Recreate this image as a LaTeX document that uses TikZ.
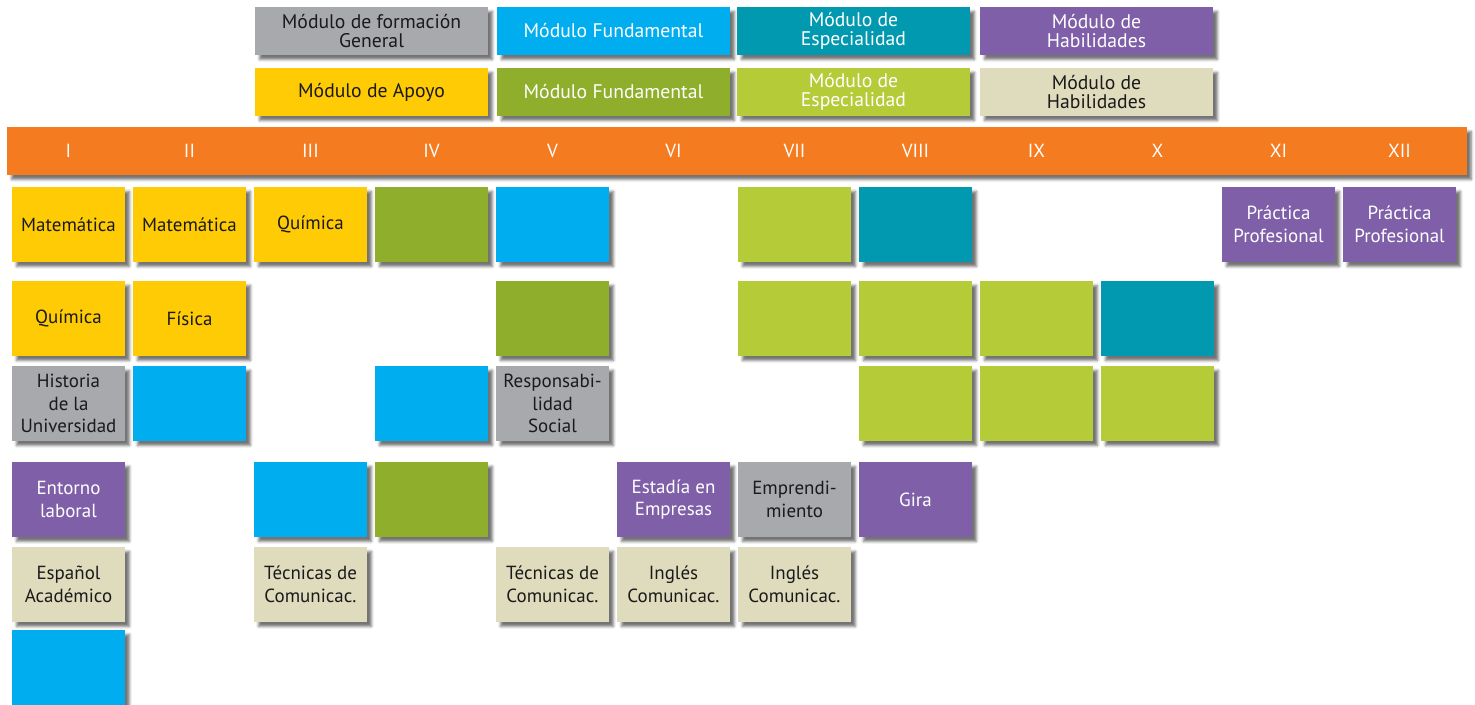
\documentclass[tikz,border=0pt]{standalone}
\usepackage{fontspec}
\setmainfont{PT Sans}
\usetikzlibrary{shadows.blur}

\definecolor{gris}{HTML}{A7A9AC}
\definecolor{celeste}{HTML}{00AEEF}
\definecolor{petroleo}{HTML}{0099B0}
\definecolor{morado}{HTML}{7F5FA8}
\definecolor{amarillo}{HTML}{FFCB05}
\definecolor{oliva}{HTML}{8FAE2B}
\definecolor{lima}{HTML}{B5CB37}
\definecolor{crema}{HTML}{DFDBBD}
\definecolor{naranja}{HTML}{F47B20}
\definecolor{tinta}{HTML}{1A1A1A}

\tikzset{
    caja/.style={rectangle, inner sep=1pt, align=center,
        font=\fontsize{10.8}{12.8}\selectfont,
        blur shadow={shadow xshift=2.5pt, shadow yshift=-2.5pt,
            shadow blur radius=1.5pt, shadow opacity=55}},
    ramo/.style={caja, minimum width=2.26cm, minimum height=1.5cm},
    leyenda/.style={caja, minimum width=4.66cm, minimum height=0.96cm,
        font=\fontsize{11.2}{10.8}\selectfont},
    barra/.style={caja, fill=naranja, minimum width=29.2cm, minimum height=0.96cm},
    general/.style={fill=gris, text=tinta},
    fundamental/.style={fill=celeste, text=white},
    especialidad/.style={fill=petroleo, text=white},
    habilidades/.style={fill=morado, text=white},
    apoyo/.style={fill=amarillo, text=tinta},
    fundamentalb/.style={fill=oliva, text=white},
    especialidadb/.style={fill=lima, text=white},
    habilidadesb/.style={fill=crema, text=tinta},
}

\begin{document}
\begin{tikzpicture}[x=0.02cm, y=-0.02cm]
    \useasboundingbox (0,0) rectangle (1475,705);

    % leyenda
    \node[leyenda, general]       (leyGen)  at (371.5,31) {Módulo de formación\\General};
    \node[leyenda, fundamental]   (leyFun)  at (613.5,31) {Módulo Fundamental};
    \node[leyenda, especialidad]  (leyEsp)  at (853.5,31) {Módulo de\\Especialidad};
    \node[leyenda, habilidades]   (leyHab)  at (1096.5,31) {Módulo de\\Habilidades};
    \node[leyenda, apoyo]         (leyApo)  at (371.5,92) {Módulo de Apoyo};
    \node[leyenda, fundamentalb]  (leyFunB) at (613.5,92) {Módulo Fundamental};
    \node[leyenda, especialidadb] (leyEspB) at (853.5,92) {Módulo de\\Especialidad};
    \node[leyenda, habilidadesb]  (leyHabB) at (1096.5,92) {Módulo de\\Habilidades};

    % semestres
    \node[barra] (semestres) at (737,151) {};
    \foreach \r [count=\i] in {I,II,III,IV,V,VI,VII,VIII,IX,X,XI,XII}
        \node[text=white, font=\fontsize{10.8}{12.8}\selectfont] (sem\i) at ({68.5+121*(\i-1)},151) {\r};

    % fila 1
    \node[ramo, apoyo]         (matI)   at (68.5,224.5)  {Matemática};
    \node[ramo, apoyo]         (matII)  at (189.5,224.5) {Matemática};
    \node[ramo, apoyo]         (quiIII) at (310.5,224.5) {Química};
    \node[ramo, fundamentalb]  (funIV)  at (431.5,224.5) {};
    \node[ramo, fundamental]   (funV)   at (552.5,224.5) {};
    \node[ramo, especialidadb] (espVII) at (794.5,224.5) {};
    \node[ramo, especialidad]  (espVIII) at (915.5,224.5) {};
    \node[ramo, habilidades]   (praXI)  at (1278.5,224.5) {Práctica\\Profesional};
    \node[ramo, habilidades]   (praXII) at (1399.5,224.5) {Práctica\\Profesional};

    % fila 2
    \node[ramo, apoyo]         (quiI)    at (68.5,318.5)  {Química};
    \node[ramo, apoyo]         (fisII)   at (189.5,318.5) {Física};
    \node[ramo, fundamentalb]  (funV2)   at (552.5,318.5) {};
    \node[ramo, especialidadb] (espVII2) at (794.5,318.5) {};
    \node[ramo, especialidadb] (espVIII2) at (915.5,318.5) {};
    \node[ramo, especialidadb] (espIX2)  at (1036.5,318.5) {};
    \node[ramo, especialidad]  (espX2)   at (1157.5,318.5) {};

    % fila 3
    \node[ramo, general]       (hisI)     at (68.5,403.5)  {Historia\\de la\\Universidad};
    \node[ramo, fundamental]   (funII3)   at (189.5,403.5) {};
    \node[ramo, fundamental]   (funIV3)   at (431.5,403.5) {};
    \node[ramo, general]       (resV)     at (552.5,403.5) {Responsabi-\\lidad\\Social};
    \node[ramo, especialidadb] (espVIII3) at (915.5,403.5) {};
    \node[ramo, especialidadb] (espIX3)   at (1036.5,403.5) {};
    \node[ramo, especialidadb] (espX3)    at (1157.5,403.5) {};

    % fila 4
    \node[ramo, habilidades]   (entI)    at (68.5,499.5)  {Entorno\\laboral};
    \node[ramo, fundamental]   (funIII4) at (310.5,499.5) {};
    \node[ramo, fundamentalb]  (funIV4)  at (431.5,499.5) {};
    \node[ramo, habilidades]   (estVI)   at (673.5,499.5) {Estadía en\\Empresas};
    \node[ramo, general]       (empVII)  at (794.5,499.5) {Emprendi-\\miento};
    \node[ramo, habilidades]   (giraVIII) at (915.5,499.5) {Gira};

    % fila 5
    \node[ramo, habilidadesb]  (espaI)   at (68.5,584.5)  {Español\\Académico};
    \node[ramo, habilidadesb]  (tecIII)  at (310.5,584.5) {Técnicas de\\Comunicac.};
    \node[ramo, habilidadesb]  (tecV)    at (552.5,584.5) {Técnicas de\\Comunicac.};
    \node[ramo, habilidadesb]  (ingVI)   at (673.5,584.5) {Inglés\\Comunicac.};
    \node[ramo, habilidadesb]  (ingVII)  at (794.5,584.5) {Inglés\\Comunicac.};

    % fila 6
    \node[ramo, fundamental]   (funI6)   at (68.5,667.5)  {};
\end{tikzpicture}
\end{document}
